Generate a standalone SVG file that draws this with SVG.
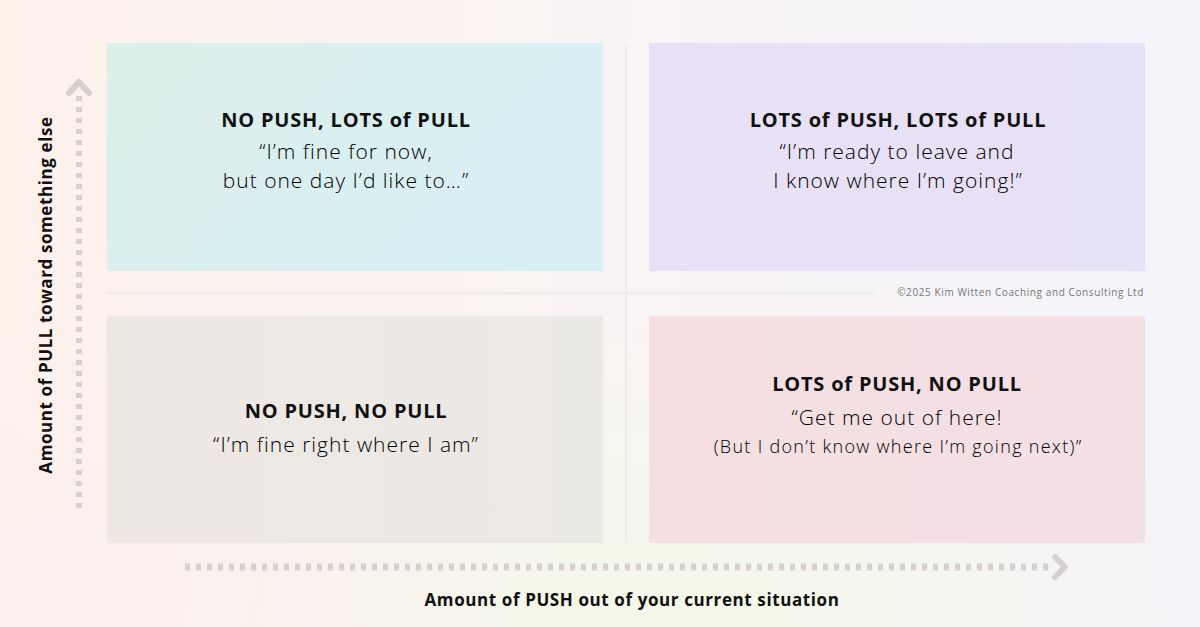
<svg xmlns="http://www.w3.org/2000/svg" width="1200" height="627" viewBox="0 0 1200 627">
<defs>
  <linearGradient id="bgA" x1="0" y1="0" x2="1" y2="0">
    <stop offset="0" stop-color="#fdf1ea"/>
    <stop offset="0.5" stop-color="#f9f4f4"/>
    <stop offset="1" stop-color="#f4f4fb"/>
  </linearGradient>
  <radialGradient id="bgB" cx="0.55" cy="1" r="0.5">
    <stop offset="0" stop-color="#f3f8e6" stop-opacity="0.9"/>
    <stop offset="1" stop-color="#f3f8e6" stop-opacity="0"/>
  </radialGradient>
  <radialGradient id="bgC" cx="0" cy="1" r="0.5">
    <stop offset="0" stop-color="#fbeeee" stop-opacity="0.9"/>
    <stop offset="1" stop-color="#fbeeee" stop-opacity="0"/>
  </radialGradient>
  <linearGradient id="gTL" x1="0" y1="0" x2="1" y2="0.4">
    <stop offset="0" stop-color="#dcefe9"/>
    <stop offset="1" stop-color="#d8eff5"/>
  </linearGradient>
  <linearGradient id="gTR" x1="0" y1="0" x2="1" y2="0">
    <stop offset="0" stop-color="#e9e0f5"/>
    <stop offset="1" stop-color="#e8e2f6"/>
  </linearGradient>
  <linearGradient id="gBL" x1="0" y1="0" x2="1" y2="0">
    <stop offset="0" stop-color="#eee8e3"/>
    <stop offset="1" stop-color="#ebe9e6"/>
  </linearGradient>
  <linearGradient id="gBR" x1="0" y1="0" x2="1" y2="0">
    <stop offset="0" stop-color="#f5dfe2"/>
    <stop offset="1" stop-color="#f3e0e5"/>
  </linearGradient>
  <style>
    .title { font-family: "Open Sans", "Noto Sans", sans-serif; font-weight: 700; font-size: 20px; letter-spacing: 0.8px; fill: #111; text-anchor: middle; }
    .quote { font-family: "Open Sans", "Noto Sans", sans-serif; font-weight: 300; font-size: 21px; letter-spacing: 1px; fill: #000; text-anchor: middle; }
    .small { font-size: 18px; letter-spacing: 1.3px; }
    .axis { font-family: "Open Sans", "Noto Sans", sans-serif; font-weight: 700; font-size: 17px; letter-spacing: 0.6px; fill: #111; text-anchor: middle; }
    .copy { font-family: "Open Sans", "Noto Sans", sans-serif; font-size: 10px; letter-spacing: 0.6px; fill: #777; text-anchor: end; }
    .dots { fill: none; stroke: #d6d1cf; stroke-width: 6; stroke-dasharray: 5 6; }
    .head { fill: none; stroke: #d6d1cf; stroke-width: 6; stroke-linecap: round; stroke-linejoin: round; }
    .guide { stroke: #ece9e8; stroke-width: 1.5; }
  </style>
</defs>
<rect width="1200" height="627" fill="url(#bgA)"/>
<rect width="1200" height="627" fill="url(#bgB)"/>
<rect width="1200" height="627" fill="url(#bgC)"/>

<g id="guides">
  <line class="guide" x1="626" y1="43" x2="626" y2="543"/>
  <line class="guide" x1="107" y1="293" x2="875" y2="293"/>
</g>

<g id="q-no-push-lots-pull">
  <rect x="107" y="43" width="496" height="228" fill="url(#gTL)"/>
  <text class="title" x="346" y="127">NO PUSH, LOTS of PULL</text>
  <text class="quote" x="346" y="159">“I’m fine for now,</text>
  <text class="quote" x="346" y="188">but one day I’d like to…”</text>
</g>

<g id="q-lots-push-lots-pull">
  <rect x="649" y="43" width="496" height="228" fill="url(#gTR)"/>
  <text class="title" x="898" y="127">LOTS of PUSH, LOTS of PULL</text>
  <text class="quote" x="897" y="159">“I’m ready to leave and</text>
  <text class="quote" x="898" y="188">I know where I’m going!”</text>
</g>

<g id="q-no-push-no-pull">
  <rect x="107" y="316" width="496" height="227" fill="url(#gBL)"/>
  <text class="title" x="346" y="418">NO PUSH, NO PULL</text>
  <text class="quote" x="346" y="452">“I’m fine right where I am”</text>
</g>

<g id="q-lots-push-no-pull">
  <rect x="649" y="316" width="496" height="227" fill="url(#gBR)"/>
  <text class="title" x="897" y="391">LOTS of PUSH, NO PULL</text>
  <text class="quote" x="897" y="425">“Get me out of here!</text>
  <text class="quote small" x="898" y="453">(But I don’t know where I’m going next)”</text>
</g>

<text class="copy" x="1144" y="296">©2025 Kim Witten Coaching and Consulting Ltd</text>

<g id="connectors">
  <g id="axis-pull">
    <line class="dots" x1="79" y1="508" x2="79" y2="92"/>
    <polyline class="head" points="69,93 79,82 89,93"/>
  </g>
  <g id="axis-push">
    <line class="dots" x1="185" y1="567" x2="1054" y2="567" style="stroke-width:7"/>
    <polyline class="head" points="1055,557 1065,567 1055,577"/>
  </g>
</g>

<text class="axis" transform="translate(52,295) rotate(-90)">Amount of PULL toward something else</text>
<text class="axis" x="632" y="606">Amount of PUSH out of your current situation</text>
</svg>
